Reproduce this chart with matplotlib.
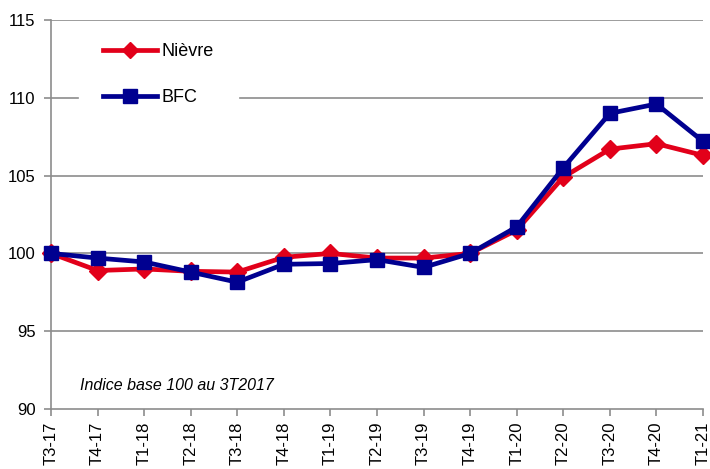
import matplotlib
matplotlib.use("Agg")
import matplotlib.pyplot as plt
from matplotlib.lines import Line2D

plt.rcParams['font.family'] = ['Liberation Sans', 'DejaVu Sans']

quarters = ["T3-17", "T4-17", "T1-18", "T2-18", "T3-18", "T4-18", "T1-19", "T2-19",
            "T3-19", "T4-19", "T1-20", "T2-20", "T3-20", "T4-20", "T1-21"]
nievre = [100.0, 98.9, 99.0, 98.85, 98.8, 99.75, 100.0, 99.7, 99.7, 100.0, 101.5, 104.9, 106.7, 107.05, 106.3]
bfc = [100.0, 99.7, 99.45, 98.8, 98.15, 99.3, 99.35, 99.6, 99.1, 100.0, 101.7, 105.5, 109.0, 109.6, 107.2]
yticks = [90, 95, 100, 105, 110, 115]

red = "#E2001A"
navy = "#000090"
grey = "#8C8C8C"

fig = plt.figure(figsize=(7.1, 4.69), dpi=100)
ax = fig.add_axes([0.0718, 0.1279, 0.9183, 0.8295])

x = list(range(len(quarters)))
ax.plot(x, nievre, color=red, lw=3.4, marker='D', markersize=9, zorder=3, clip_on=False)
ax.plot(x, bfc, color=navy, lw=3.4, marker='s', markersize=10.5, zorder=4, clip_on=False)

ax.set_xlim(0, len(quarters) - 1)
ax.set_ylim(90, 115)
ax.set_yticks(yticks)
ax.set_xticks(x)
ax.set_xticklabels(quarters, rotation=90, fontsize=12)
ax.tick_params(axis='y', labelsize=12, length=5, color=grey, width=1.2, pad=6)
ax.tick_params(axis='x', length=5, color=grey, width=1.2, pad=4)
for v in yticks[1:]:
    if v == 110:
        ax.axhline(v, xmin=0, xmax=0.041, color=grey, lw=1.2, zorder=1)
        ax.axhline(v, xmin=0.29, xmax=1, color=grey, lw=1.2, zorder=1)
    else:
        ax.axhline(v, color=grey, lw=1.2, zorder=1)
for s in ['top', 'right']:
    ax.spines[s].set_visible(False)
for s in ['left', 'bottom']:
    ax.spines[s].set_color(grey)
    ax.spines[s].set_linewidth(1.2)

handles = [Line2D([], [], color=red, lw=3.4, marker='D', markersize=8),
           Line2D([], [], color=navy, lw=3.4, marker='s', markersize=10)]
leg = ax.legend(handles, ["Nièvre", "BFC"], loc='upper left', bbox_to_anchor=(0.0798, 0.940),
                frameon=False, fontsize=13, handlelength=3.0, labelspacing=1.6,
                handletextpad=0.25, borderpad=0, borderaxespad=0)

ax.text(0.0445, 0.0617, "Indice base 100 au 3T2017", transform=ax.transAxes,
        fontsize=11.5, style='italic', ha='left', va='center')

fig.savefig("out.png", dpi=100)
